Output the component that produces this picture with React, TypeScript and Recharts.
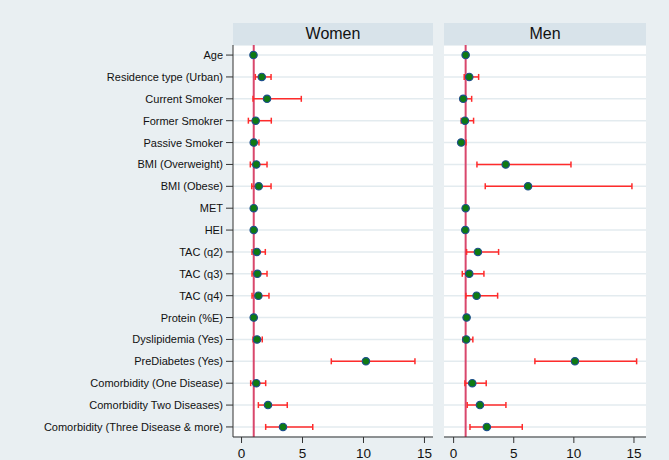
import React from "react";
import {
  ScatterChart,
  Scatter,
  XAxis,
  YAxis,
  CartesianGrid,
  ReferenceLine,
  ErrorBar,
} from "recharts";

const labels = [
  "Age",
  "Residence type (Urban)",
  "Current Smoker",
  "Former Smokrer",
  "Passive Smoker",
  "BMI (Overweight)",
  "BMI (Obese)",
  "MET",
  "HEI",
  "TAC (q2)",
  "TAC (q3)",
  "TAC (q4)",
  "Protein (%E)",
  "Dyslipidemia (Yes)",
  "PreDiabetes (Yes)",
  "Comorbidity (One Disease)",
  "Comorbidity Two Diseases)",
  "Comorbidity (Three Disease & more)",
];

const womenOR = [0.98, 1.66, 2.09, 1.16, 1.0, 1.21, 1.41, 1.0, 1.0, 1.25, 1.3, 1.38, 1.0, 1.27, 10.2, 1.21, 2.17, 3.4];
const womenLo = [0.97, 1.13, 0.94, 0.56, 0.84, 0.72, 0.84, 0.99, 0.99, 0.86, 0.86, 0.86, 0.99, 0.94, 7.36, 0.75, 1.38, 1.98];
const womenHi = [0.99, 2.42, 4.9, 2.44, 1.43, 2.09, 2.42, 1.01, 1.01, 1.95, 2.09, 2.25, 1.01, 1.7, 14.22, 1.98, 3.75, 5.84];

const menOR = [1.0, 1.3, 0.8, 0.94, 0.63, 4.33, 6.19, 1.0, 0.97, 2.02, 1.3, 1.91, 1.08, 1.05, 10.09, 1.55, 2.19, 2.76];
const menLo = [0.99, 0.88, 0.58, 0.63, 0.55, 1.94, 2.63, 0.99, 0.96, 1.08, 0.72, 1.02, 1.04, 0.77, 6.76, 0.94, 1.13, 1.36];
const menHi = [1.01, 2.08, 1.5, 1.66, 1.03, 9.76, 14.83, 1.01, 0.98, 3.74, 2.52, 3.66, 1.12, 1.6, 15.22, 2.71, 4.35, 5.71];

const xTicks = [0, 5, 10, 15];
const rowTicks = labels.map((_, i) => i);

const FONT = '"Liberation Sans", Arial, sans-serif';
const BG = "#e9eff2";
const STRIP = "#d8e3ea";

const build = (or: number[], lo: number[], hi: number[]) =>
  or.map((v, i) => ({ row: i, or: v, err: [v - lo[i], hi[i] - v] }));

const womenData = build(womenOR, womenLo, womenHi);
const menData = build(menOR, menLo, menHi);

const Dot = (props: any) => {
  const { cx, cy } = props;
  if (cx == null || cy == null) return null;
  return <circle cx={cx} cy={cy} r={3.7} fill="#0f7a12" stroke="#1d4f8c" strokeWidth={1.2} />;
};

// single-line row label, no wrapping
const RowTick = (props: any) => {
  const { x, y, payload } = props;
  return (
    <text x={x} y={y} dy="0.36em" textAnchor="end" fill="#111" fontSize={11} fontFamily={FONT}>
      {labels[payload.value] ?? ""}
    </text>
  );
};

type PanelProps = {
  data: { row: number; or: number; err: number[] }[];
  width: number;
  domain: [number, number];
  showY: boolean;
};

function Panel({ data, width, domain, showY }: PanelProps) {
  return (
    <ScatterChart
      width={width}
      height={460}
      margin={{ top: 45, right: 5, bottom: 0, left: 0 }}
      style={{ fontFamily: FONT }}
    >
      <CartesianGrid
        vertical={false}
        stroke="#e3ebef"
        strokeWidth={1.5}
        fill="#ffffff"
        fillOpacity={1}
      />
      <XAxis
        type="number"
        dataKey="or"
        domain={domain}
        ticks={xTicks}
        allowDataOverflow
        height={23}
        tickSize={6}
        tickMargin={5}
        stroke="#333"
        tick={{ fill: "#111", fontSize: 13.5 }}
      />
      <YAxis
        type="number"
        dataKey="row"
        domain={[-0.46, 17.46]}
        reversed
        ticks={rowTicks}
        interval={0}
        allowDataOverflow
        hide={!showY}
        width={showY ? 233 : 0}
        tickSize={7}
        tickMargin={3}
        stroke="#333"
        tick={<RowTick />}
      />
      <ReferenceLine x={1} stroke="#d9476c" strokeWidth={2} />
      <Scatter data={data} shape={<Dot />} isAnimationActive={false}>
        <ErrorBar
          dataKey="err"
          direction="x"
          width={3}
          stroke="#ff2b2b"
          strokeWidth={1.5}
          isAnimationActive={false}
        />
      </Scatter>
    </ScatterChart>
  );
}

const stripStyle: React.CSSProperties = {
  position: "absolute",
  top: 23,
  height: 22,
  background: STRIP,
  fontFamily: FONT,
  fontSize: 16,
  lineHeight: "22px",
  textAlign: "center",
  color: "#111",
};

export default function App() {
  return (
    <div
      style={{
        position: "absolute",
        left: 0,
        top: 0,
        width: 669,
        height: 460,
        background: BG,
        overflow: "hidden",
      }}
    >
      <div style={{ position: "absolute", left: 0, top: 0 }}>
        <Panel data={womenData} width={438} domain={[-0.7, 15.7]} showY />
      </div>
      <div style={{ position: "absolute", left: 444, top: 0 }}>
        <Panel data={menData} width={207} domain={[-0.8, 16.0]} showY={false} />
      </div>
      <div style={{ ...stripStyle, left: 233, width: 200 }}>Women</div>
      <div style={{ ...stripStyle, left: 444, width: 202 }}>Men</div>
    </div>
  );
}
